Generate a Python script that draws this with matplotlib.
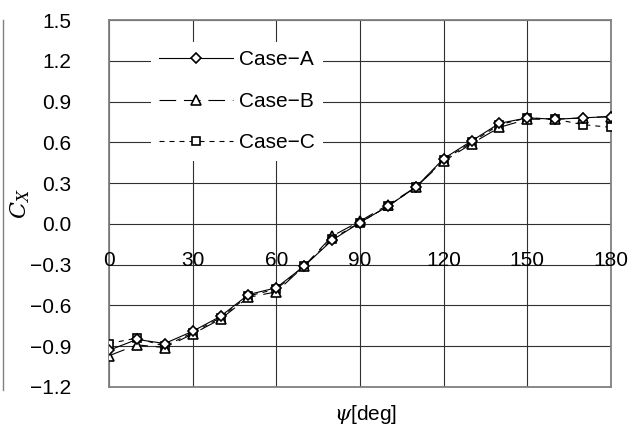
import matplotlib
matplotlib.use("Agg")
import matplotlib.pyplot as plt
import matplotlib.transforms as mtransforms

plt.rcParams['font.family'] = ['Liberation Sans', 'DejaVu Sans']
plt.rcParams['mathtext.fontset'] = 'dejavuserif'

psi = [0, 10, 20, 30, 40, 50, 60, 70, 80, 90, 100, 110, 120, 130, 140, 150, 160, 170, 180]
case_a = [-0.93, -0.85, -0.88, -0.79, -0.68, -0.52, -0.47, -0.31, -0.12, 0.01, 0.13, 0.27, 0.48, 0.61, 0.74, 0.78, 0.77, 0.78, 0.79]
case_b = [-0.97, -0.89, -0.91, -0.81, -0.70, -0.54, -0.50, -0.31, -0.09, 0.02, 0.14, 0.27, 0.46, 0.59, 0.71, 0.77, 0.77, 0.78, 0.79]
case_c = [-0.88, -0.84, -0.90, -0.80, -0.69, -0.53, -0.48, -0.31, -0.11, 0.01, 0.13, 0.27, 0.47, 0.60, 0.73, 0.78, 0.77, 0.73, 0.71]
labels = ['Case\u2212A', 'Case\u2212B', 'Case\u2212C']
xticks = [0, 30, 60, 90, 120, 150, 180]
yticks = [1.5, 1.2, 0.9, 0.6, 0.3, 0.0, -0.3, -0.6, -0.9, -1.2]

fig = plt.figure(figsize=(6.31, 4.29), dpi=100)
ax = fig.add_axes([109/631, 1 - 387/429, (611-109)/631, (387-20)/429])

ax.plot(psi, case_c, linestyle=(0, (4.5, 4.5)), color='black', lw=0.8, marker='s', ms=6,
        mfc='white', mec='black', mew=1.2, label=labels[2], zorder=3)
ax.plot(psi, case_b, linestyle=(0, (15, 7)), color='black', lw=0.8, marker='^', ms=7,
        mfc='white', mec='black', mew=1.2, label=labels[1], zorder=4)
ax.plot(psi, case_a, linestyle='-', color='black', lw=0.8, marker='D', ms=5.5,
        mfc='white', mec='black', mew=1.2, label=labels[0], zorder=5)

ax.set_xlim(0, 180)
ax.set_ylim(-1.2, 1.5)
ax.set_xticks(xticks)
ax.set_xticklabels([])
ax.set_yticks(yticks)
ax.set_yticklabels([f"{v:.1f}".replace('-', '\u2212') for v in yticks], fontsize=15)
ax.tick_params(axis='both', length=0)
ax.tick_params(axis='y', pad=27)
ax.grid(True, color='#303030', lw=0.8)
ax.set_axisbelow(True)
for s in ax.spines.values():
    s.set_color('#808080')
    s.set_linewidth(1.3)

off = mtransforms.offset_copy(ax.transData, fig=fig, x=0, y=-37, units='dots')
for t in xticks:
    ax.text(t, 0, str(t), transform=off, ha='center', va='center', fontsize=15,
            zorder=6, clip_on=False)

h, l = ax.get_legend_handles_labels()
leg = ax.legend(h[::-1], l[::-1], loc='upper left', bbox_to_anchor=(0.062, 0.968),
                fontsize=15, frameon=True, handlelength=3.55, handletextpad=0.3,
                labelspacing=1.08, borderpad=0.4, fancybox=False)
leg.get_frame().set_edgecolor('none')
leg.get_frame().set_facecolor('white')
leg.get_frame().set_alpha(1)

fig.text(20/631, 1 - 204/429, r'$C_X$', rotation=90, ha='center', va='center', fontsize=16)
fig.text(366/631, 1 - 415/429, r'$\psi$[deg]', ha='center', va='center', fontsize=15)

fig.add_artist(plt.Line2D([3/631, 3/631], [1 - 20/429, 1 - 390/429], color='#808080', lw=1))

fig.savefig('out.png', dpi=100)
